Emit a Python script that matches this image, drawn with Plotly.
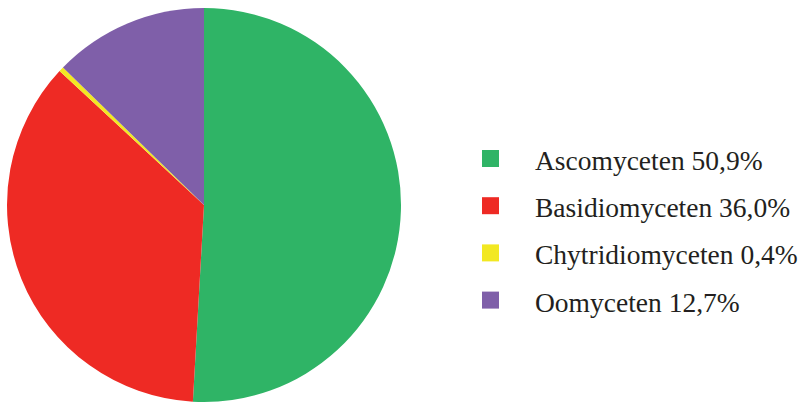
import plotly.graph_objects as go

W, H = 802, 403

labels = ["Ascomyceten", "Basidiomyceten", "Chytridiomyceten", "Oomyceten"]
values = [50.9, 36.0, 0.4, 12.7]
colors = ["#2fb466", "#ee2a24", "#f2e822", "#7f5fa9"]

fig = go.Figure()
fig.add_trace(go.Pie(
    labels=labels, values=values, sort=False, direction="clockwise", rotation=0,
    marker=dict(colors=colors, line=dict(width=0)),
    textinfo="none", hoverinfo="label+percent", showlegend=False,
    domain=dict(x=[7 / W, 401 / W], y=[1 - 402 / H, 1 - 8 / H]),
))

row0, gap = 158.5, 47.2
sq = 17
for i, (lab, val, col) in enumerate(zip(labels, values, colors)):
    cy = row0 + i * gap
    fig.add_shape(type="rect", xref="paper", yref="paper",
                  x0=482 / W, x1=(482 + sq) / W,
                  y0=1 - (cy - sq / 2) / H, y1=1 - (cy + sq / 2) / H,
                  fillcolor=col, line=dict(width=0))
    txt = f"{lab} {val:.1f}%".replace(".", ",")
    fig.add_annotation(xref="paper", yref="paper", x=533 / W, y=1 - (cy + 2) / H,
                       xanchor="left", yanchor="middle", showarrow=False, text=txt,
                       font=dict(family="'Liberation Serif', 'Times New Roman', Times, serif",
                                 size=27.5, color="#231f20"))

fig.update_layout(width=W, height=H, margin=dict(l=0, r=0, t=0, b=0),
                  paper_bgcolor="white", plot_bgcolor="white")
fig.write_html("out.html", config={"displayModeBar": False},
               post_script="document.body.style.margin='0';")
